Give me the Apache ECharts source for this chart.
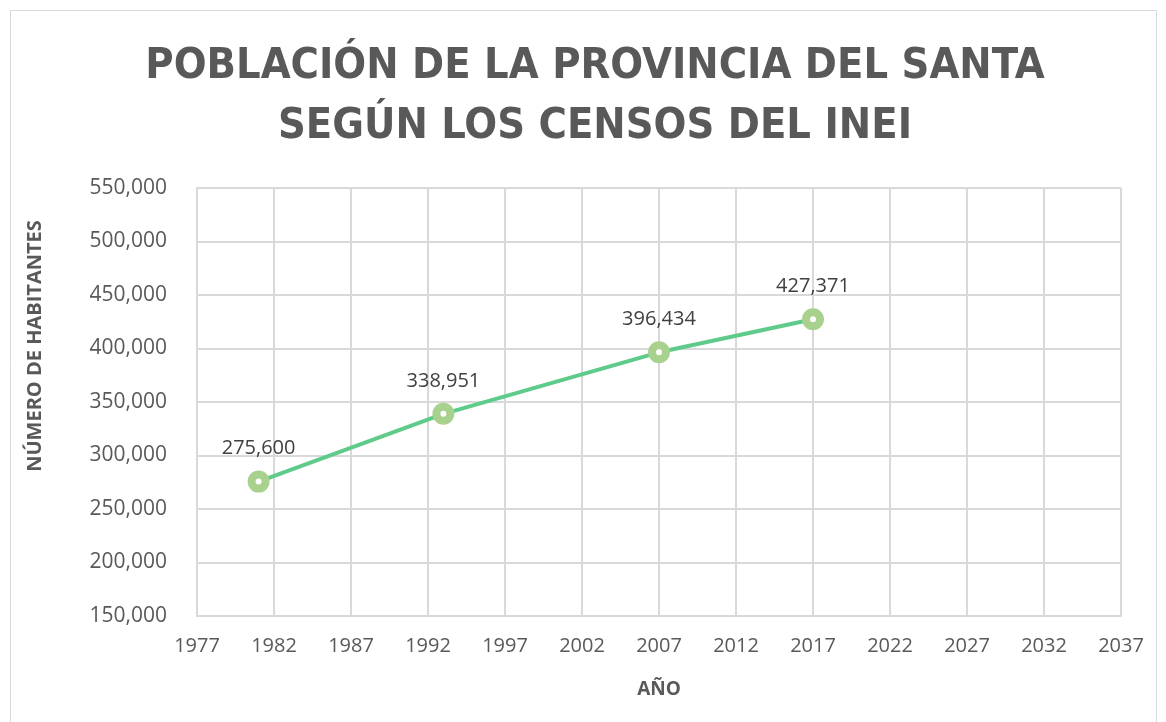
<!DOCTYPE html>
<html>
<head>
<meta charset="utf-8">
<title>Población de la Provincia del Santa</title>
<script src="https://cdn.jsdelivr.net/npm/echarts@6/dist/echarts.min.js"></script>
<style>
  html, body { margin: 0; padding: 0; background: #fff; }
  #chart { width: 1166px; height: 722px; }
</style>
</head>
<body>
<div id="chart"></div>
<script>
const YEARS = [1981, 1993, 2007, 2017];
const POPULATION = [275600, 338951, 396434, 427371];

// x axis runs 1977..2037 every 5 years; ticks are counted from this base
const YEAR_BASE = 1977;
const YEAR_SPAN = 60;

const fmt = (v) => v.toLocaleString("en-US");

function renderChart() {
  const chart = echarts.init(document.getElementById("chart"));

  const seriesData = YEARS.map((year, i) => [year - YEAR_BASE, POPULATION[i]]);

  const option = {
    animation: false,
    graphic: [
      {
        type: "rect",
        shape: { x: 10.5, y: 10.5, width: 1146, height: 720 },
        style: { fill: "none", stroke: "#d9d9d9", lineWidth: 1 },
        silent: true,
      },
    ],
    title: {
      text: "POBLACIÓN DE LA PROVINCIA DEL SANTA\nSEGÚN LOS CENSOS DEL INEI",
      left: 590,
      top: 32,
      textAlign: "center",
      textStyle: {
        fontFamily: "DejaVu Sans Condensed",
        fontWeight: "bold",
        fontSize: 43,
        lineHeight: 60,
        color: "#595959",
      },
    },
    grid: {
      left: 197,
      right: 45,
      top: 188,
      bottom: 106,
    },
    xAxis: {
      type: "value",
      min: 0,
      max: YEAR_SPAN,
      interval: 5,
      name: "AÑO",
      nameLocation: "middle",
      nameGap: 64,
      nameTextStyle: {
        fontFamily: "Open Sans",
        fontWeight: "bold",
        fontSize: 19,
        color: "#595959",
      },
      axisLine: { show: true, lineStyle: { color: "#d9d9d9", width: 2 } },
      axisTick: { show: false },
      splitLine: { show: true, lineStyle: { color: "#d9d9d9", width: 2 } },
      axisLabel: {
        formatter: (v) => String(v + YEAR_BASE),
        fontFamily: "Open Sans",
        fontSize: 20,
        color: "#595959",
        margin: 20,
      },
    },
    yAxis: {
      type: "value",
      min: 150000,
      max: 550000,
      interval: 50000,
      name: "NÚMERO DE HABITANTES",
      nameLocation: "middle",
      nameGap: 152,
      nameTextStyle: {
        fontFamily: "Open Sans",
        fontWeight: "bold",
        fontSize: 20,
        color: "#595959",
        padding: [0, 0, 0, 112],
      },
      axisLine: { show: true, lineStyle: { color: "#d9d9d9", width: 2 } },
      axisTick: { show: false },
      splitLine: { show: true, lineStyle: { color: "#d9d9d9", width: 2 } },
      axisLabel: {
        formatter: fmt,
        fontFamily: "Open Sans",
        fontSize: 21,
        color: "#595959",
        margin: 30,
      },
    },
    series: [
      {
        type: "line",
        data: seriesData,
        lineStyle: { color: "#5fcb8b", width: 4 },
        symbol: "circle",
        symbolSize: 14,
        itemStyle: {
          color: "#ffffff",
          borderColor: "#a9d18e",
          borderWidth: 8,
        },
        label: {
          show: true,
          position: "top",
          distance: 12,
          formatter: (p) => fmt(p.value[1]),
          fontFamily: "Open Sans",
          fontSize: 20,
          color: "#404040",
        },
        z: 3,
      },
    ],
  };

  chart.setOption(option);
}

document.addEventListener("DOMContentLoaded", function () {
  renderChart();
});
</script>
</body>
</html>
